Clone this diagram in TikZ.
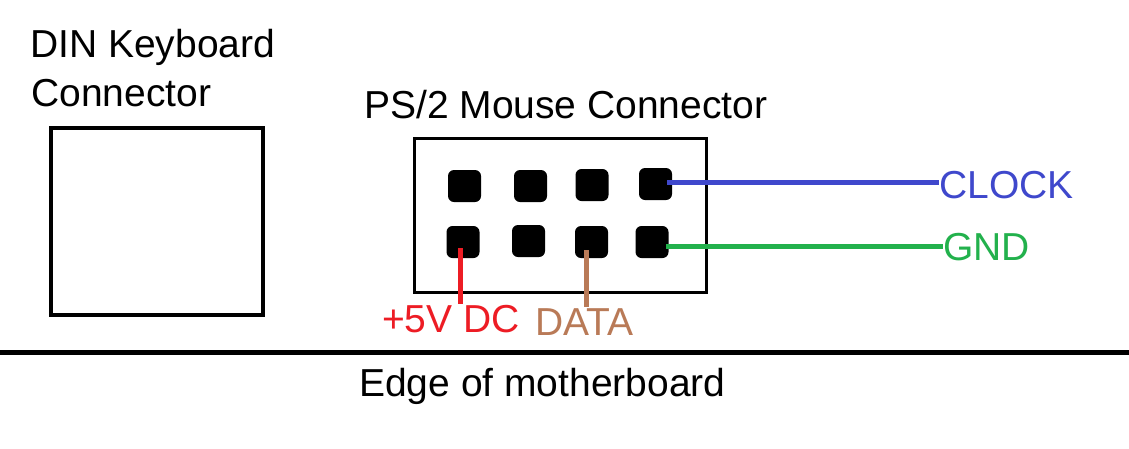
\documentclass[tikz,border=0pt]{standalone}
\usepackage{fontspec}
\setmainfont{Liberation Sans}
\definecolor{clockblue}{HTML}{3F48CC}
\definecolor{gndgreen}{HTML}{22B14C}
\definecolor{vred}{HTML}{ED1C24}
\definecolor{databrown}{HTML}{B97A57}
\begin{document}
\begin{tikzpicture}[x=1pt,y=-1pt,
  lbl/.style={anchor=base west,inner sep=0pt,font=\fontsize{39}{46}\selectfont},
  pin/.style={fill=black,rounded corners=6pt,minimum width=33pt,minimum height=32pt,inner sep=0pt},
  wire/.style={line width=5pt}]
\useasboundingbox (0,0) rectangle (1129,448);
\fill[white] (0,0) rectangle (1129,448);
% titles
\node[lbl] (dinA) at (30,57) {DIN Keyboard};
\node[lbl] (dinB) at (31,106) {Connector};
\node[lbl] (ps2t) at (364,118) {PS/2 Mouse Connector};
% DIN box
\node[draw,line width=4.8pt,minimum width=212pt,minimum height=187pt,inner sep=0pt] (din) at (157,221.5) {};
% PS/2 box
\node[draw,line width=3.8pt,minimum width=292pt,minimum height=154pt,inner sep=0pt] (ps2) at (560.5,215.5) {};
% pins
\node[pin] (p1) at (464.5,186) {};
\node[pin] (p2) at (530.5,186) {};
\node[pin] (p3) at (592,185) {};
\node[pin] (p4) at (655.5,184) {};
\node[pin] (p5) at (463,242) {};
\node[pin] (p6) at (528.5,241) {};
\node[pin] (p7) at (591.5,242) {};
\node[pin] (p8) at (652,242) {};
% labels
\node[lbl,text=clockblue] (clock) at (939,198) {CLOCK};
\node[lbl,text=gndgreen] (gnd) at (943,260) {GND};
\node[lbl,text=vred] (vdc) at (382,332) {+5V DC};
\node[lbl,text=databrown] (data) at (535,335) {DATA};
\node[lbl] (edge) at (359,396) {Edge of motherboard};
% wires
\coordinate (clkS) at (667,182);
\coordinate (gndS) at (666,246);
\coordinate (redS) at (460,248);
\coordinate (redE) at (460,304);
\coordinate (brS) at (586,250);
\coordinate (brE) at (586,307);
\draw[wire,clockblue] (clkS) -- (clock.west |- clkS);
\draw[wire,gndgreen] (gndS) -- (gnd.west |- gndS);
\draw[wire,vred] (redS) -- (redE);
\draw[wire,databrown] (brS) -- (brE);
% edge of motherboard
\coordinate (eL) at (0,352);
\coordinate (eR) at (1129,352);
\draw[line width=5pt] (eL) -- (eR);
\end{tikzpicture}
\end{document}
